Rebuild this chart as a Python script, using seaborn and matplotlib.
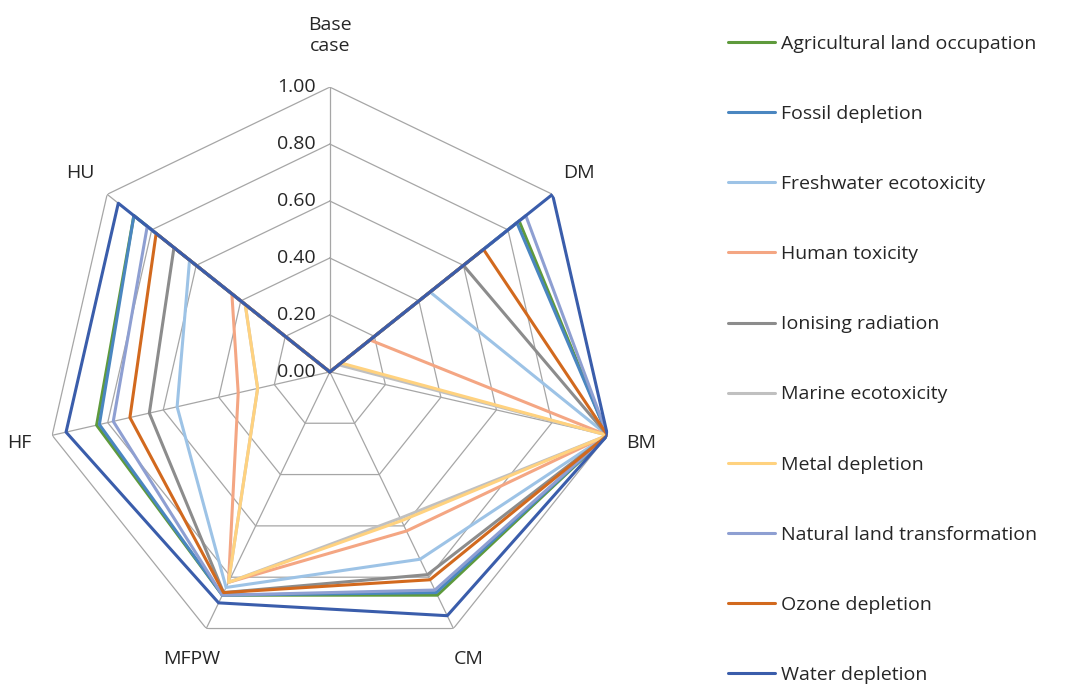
import numpy as np
import matplotlib
matplotlib.use("Agg")
import matplotlib.pyplot as plt
import seaborn as sns

sns.set_style("white")
plt.rcParams['font.family'] = ['Open Sans', 'DejaVu Sans']

axes_labels = ["Base\ncase", "DM", "BM", "CM", "MFPW", "HF", "HU"]
tick_values = [0.0, 0.2, 0.4, 0.6, 0.8, 1.0]
tick_labels = ["0.00", "0.20", "0.40", "0.60", "0.80", "1.00"]

agricultural = [0, 0.85, 1.0, 0.87, 0.87, 0.84, 0.88]
fossil = [0, 0.84, 1.0, 0.86, 0.87, 0.83, 0.88]
freshwater = [0, 0.45, 1.0, 0.73, 0.84, 0.55, 0.63]
human_tox = [0, 0.18, 1.0, 0.62, 0.82, 0.33, 0.44]
ionising = [0, 0.60, 1.0, 0.79, 0.86, 0.65, 0.70]
marine = [0, 0.04, 1.0, 0.57, 0.82, 0.26, 0.38]
metal = [0, 0.05, 1.0, 0.58, 0.82, 0.26, 0.38]
natural = [0, 0.88, 1.0, 0.85, 0.87, 0.78, 0.82]
ozone = [0, 0.69, 1.0, 0.81, 0.86, 0.72, 0.78]
water = [0, 1.0, 1.0, 0.95, 0.90, 0.95, 0.95]

series = [
    ("Agricultural land occupation", agricultural, "#5e9a3c"),
    ("Fossil depletion", fossil, "#4a86c0"),
    ("Freshwater ecotoxicity", freshwater, "#9dc3e6"),
    ("Human toxicity", human_tox, "#f4a683"),
    ("Ionising radiation", ionising, "#8c8c8c"),
    ("Marine ecotoxicity", marine, "#c0c0c0"),
    ("Metal depletion", metal, "#ffd27f"),
    ("Natural land transformation", natural, "#8e9fd2"),
    ("Ozone depletion", ozone, "#d2691e"),
    ("Water depletion", water, "#3a5dab"),
]

n = len(axes_labels)
theta = np.arange(n) * 2 * np.pi / n
theta_c = np.append(theta, theta[0])

fig = plt.figure(figsize=(10.85, 6.97), dpi=100)
ax = fig.add_axes([0.0415, 0.0574, 0.525, 0.818], projection="polar")
ax.set_theta_offset(np.pi / 2)
ax.set_theta_direction(-1)
ax.set_ylim(0, 1.0)
ax.grid(False)
ax.spines["polar"].set_visible(False)
ax.set_xticks([])
ax.set_yticks([])

for t in tick_values[1:]:
    ax.plot(theta_c, [t] * (n + 1), color="#a6a6a6", lw=0.9, zorder=1)
for th in theta:
    ax.plot([th, th], [0, 1.0], color="#a6a6a6", lw=0.9, zorder=1)

for name, vals, col in series:
    v = np.append(vals, vals[0])
    ax.plot(theta_c, v, color=col, lw=2.2, label=name, zorder=2)

for t, lab in zip(tick_values, tick_labels):
    ax.annotate(lab, xy=(0, t), xytext=(-10, 0), textcoords="offset points",
                ha="right", va="center", fontsize=14)

offsets = [1.18, 1.12, 1.12, 1.12, 1.12, 1.12, 1.12]
for th, lab, r in zip(theta, axes_labels, offsets):
    ax.text(th, r, lab, ha="center", va="center", fontsize=14)

fig.legend(loc="upper left", bbox_to_anchor=(0.655, 0.975), frameon=False,
           fontsize=14, handlelength=2.4, labelspacing=2.68, handletextpad=0.3)

fig.savefig("out.png", dpi=100)
